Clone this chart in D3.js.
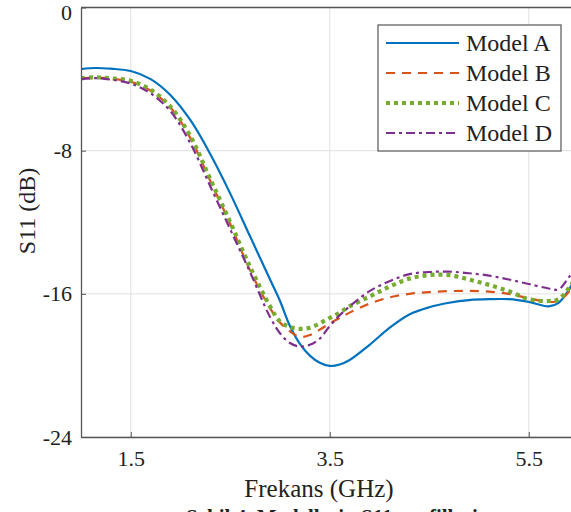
<!DOCTYPE html>
<html><head><meta charset="utf-8">
<script src="https://cdn.jsdelivr.net/npm/d3@7/dist/d3.min.js"></script>
<style>
html,body{margin:0;padding:0;background:#fff;overflow:hidden;}
svg text{font-family:"Times New Roman","Liberation Serif",Tinos,"DejaVu Serif",serif !important;fill:#222;}
</style></head>
<body><svg id="c" width="571" height="512"></svg>
<script>
const freq = [1.0,1.15,1.3,1.5,1.7,1.9,2.1,2.3,2.5,2.7,2.9,3.0,3.1,3.2,3.3,3.4,3.5,3.6,3.7,3.9,4.1,4.3,4.5,4.7,4.9,5.1,5.3,5.5,5.7,5.8,5.9,6.0];
const modelA = [-3.44,-3.38,-3.42,-3.55,-4.0,-4.9,-6.3,-8.2,-10.4,-12.8,-15.2,-16.4,-17.8,-18.8,-19.45,-19.85,-20.03,-19.95,-19.7,-18.85,-17.9,-17.15,-16.75,-16.5,-16.35,-16.3,-16.3,-16.45,-16.7,-16.5,-15.8,-14.8];
const modelB = [-3.96,-3.92,-3.98,-4.15,-4.65,-5.6,-7.3,-9.7,-12.1,-14.7,-16.8,-17.6,-18.1,-18.4,-18.3,-18.0,-17.65,-17.35,-17.05,-16.55,-16.2,-16.0,-15.9,-15.85,-15.83,-15.88,-16.0,-16.25,-16.45,-16.4,-15.9,-14.9];
const modelC = [-3.95,-3.9,-3.96,-4.1,-4.6,-5.55,-7.2,-9.6,-12.0,-14.5,-16.7,-17.55,-17.85,-17.96,-17.9,-17.65,-17.35,-17.05,-16.7,-16.15,-15.6,-15.15,-14.95,-14.95,-15.2,-15.5,-15.85,-16.3,-16.4,-16.3,-15.7,-14.8];
const modelD = [-4.0,-3.95,-4.03,-4.25,-4.8,-5.8,-7.6,-10.0,-12.4,-14.8,-17.3,-18.2,-18.75,-18.95,-18.85,-18.5,-17.8,-17.2,-16.7,-15.85,-15.3,-14.9,-14.78,-14.76,-14.85,-14.98,-15.2,-15.45,-15.7,-15.75,-15.1,-14.3];
const seriesNames = ["Model A","Model B","Model C","Model D"];
const xTicks = [1.5,3.5,5.5];
const yTicks = [0,-8,-16,-24];
const xLabel = "Frekans (GHz)";
const yLabel = "S11 (dB)";
const caption = "Şekil 4. Modellerin S11 profilleri";

const styles = [
  {color:"#0072BD", width:2.2, dash:null},
  {color:"#D95319", width:2.2, dash:"9,7"},
  {color:"#77AC30", width:4.2, dash:"4,4"},
  {color:"#7E2F8E", width:2.2, dash:"9,4,3,4"}
];
const seriesVals = [modelA, modelB, modelC, modelD];

const svg = d3.select("#c");
const L = 81, T = 7.5, B = 437, R = 578.5;
const x = d3.scaleLinear().domain([1,6]).range([L,R]);
const y = d3.scaleLinear().domain([-24,0]).range([B,T]);

// grid
const g = svg.append("g");
g.selectAll(".gx").data(xTicks).enter().append("line")
  .attr("x1",d=>x(d)).attr("x2",d=>x(d)).attr("y1",T).attr("y2",B)
  .attr("stroke","#e0e0e0").attr("stroke-width",1);
g.selectAll(".gy").data(yTicks).enter().append("line")
  .attr("x1",L).attr("x2",R).attr("y1",d=>y(d)).attr("y2",d=>y(d))
  .attr("stroke","#e0e0e0").attr("stroke-width",1);

// lines
svg.append("clipPath").attr("id","clip").append("rect")
  .attr("x",L).attr("y",T).attr("width",R-L).attr("height",B-T);
const line = d3.line().x((d,i)=>x(freq[i])).y(d=>y(d)).curve(d3.curveCatmullRom.alpha(0.5));
const lg = svg.append("g").attr("clip-path","url(#clip)");
seriesVals.forEach((vals,k)=>{
  const s = styles[k];
  const p = lg.append("path").datum(vals).attr("d",line)
    .attr("fill","none").attr("stroke",s.color).attr("stroke-width",s.width);
  if (s.dash) p.attr("stroke-dasharray",s.dash);
});

// axes
const xAxis = d3.axisBottom(x).tickValues(xTicks).tickFormat(d=>d.toFixed(1)).tickSizeInner(-5).tickSizeOuter(0).tickPadding(13);
const yAxis = d3.axisLeft(y).tickValues(yTicks).tickFormat(d=>String(d)).tickSizeInner(-5).tickSizeOuter(0).tickPadding(9);
const ax = svg.append("g").attr("transform",`translate(0,${B})`).call(xAxis);
const ay = svg.append("g").attr("transform",`translate(${L},0)`).call(yAxis);
[ax,ay].forEach(a=>{
  a.attr("font-family",null);
  a.select(".domain").attr("stroke","#555").attr("stroke-width",1.3);
  a.selectAll(".tick line").attr("stroke","#555");
  a.selectAll(".tick text").attr("font-size",22).attr("fill","#222");
});
ay.selectAll(".tick text").filter(d=>d===0).attr("dy","0.55em");
// top & right frame
svg.append("line").attr("x1",L).attr("x2",R).attr("y1",T).attr("y2",T).attr("stroke","#555").attr("stroke-width",1.3);
svg.append("line").attr("x1",R).attr("x2",R).attr("y1",T).attr("y2",B).attr("stroke","#555").attr("stroke-width",1.3);

// labels
svg.append("text").attr("x",319).attr("y",497)
  .attr("text-anchor","middle").attr("font-size",25).text(xLabel);
svg.append("text").attr("transform",`translate(35,211) rotate(-90)`)
  .attr("text-anchor","middle").attr("font-size",24).text(yLabel);
svg.append("text").attr("x",332).attr("y",524).attr("text-anchor","middle")
  .attr("font-size",21).attr("font-weight","bold").text(caption);

// legend
const lx = 378, ly = 25, lw = 183, lh = 126;
const leg = svg.append("g");
leg.append("rect").attr("x",lx).attr("y",ly).attr("width",lw).attr("height",lh)
  .attr("fill","#fff").attr("stroke","#555").attr("stroke-width",1.2);
seriesNames.forEach((n,k)=>{
  const cy = ly + 18 + k*30;
  const s = styles[k];
  const l = leg.append("line").attr("x1",lx+8).attr("x2",lx+81).attr("y1",cy).attr("y2",cy)
    .attr("stroke",s.color).attr("stroke-width",s.width);
  if (s.dash) l.attr("stroke-dasharray",s.dash);
  leg.append("text").attr("x",lx+88).attr("y",cy).attr("dy","0.35em")
    .attr("font-size",24).text(n);
});
</script></body></html>
